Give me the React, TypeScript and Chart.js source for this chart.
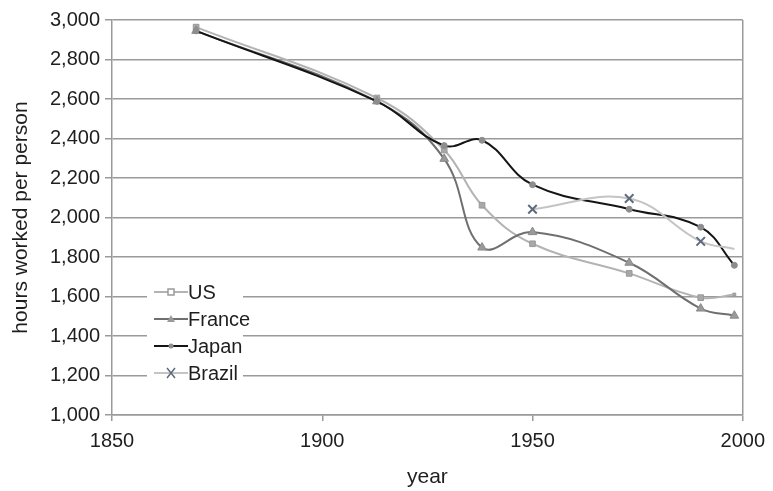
import React, { useEffect, useRef } from 'react';
import { Chart, registerables } from 'chart.js';

Chart.register(...registerables);

const years = [1870, 1913, 1929, 1938, 1950, 1973, 1990, 1998];
const usHours = [2964, 2605, 2342, 2062, 1867, 1717, 1594, 1610];
const franceHours = [2945, 2588, 2297, 1848, 1926, 1771, 1539, 1503];
const japanHours = [2945, 2588, 2364, 2391, 2166, 2042, 1951, 1758];
const brazilYears = [1950, 1973, 1990, 1998];
const brazilHours = [2042, 2096, 1879, 1841];
const seriesNames = ['US', 'France', 'Japan', 'Brazil'];
const xMin = 1850;
const xMax = 2000;
const xStep = 50;
const yMin = 1000;
const yMax = 3000;
const yStep = 200;

const FONT = '"Liberation Sans", Arial, Helvetica, sans-serif';
const TEXT = '#1e1e1e';
const GRID = '#9a9a9a';

const pts = (xs: number[], ys: number[]) => xs.map((x, i) => ({ x, y: ys[i] }));

const styles = [
  { line: '#b3b3b3', point: '#a8a8a8', pointBorder: '#9a9a9a', style: 'rect', radius: 4, width: 2 },
  { line: '#6f6f6f', point: '#9a9a9a', pointBorder: '#8a8a8a', style: 'triangle', radius: 5, width: 2 },
  { line: '#151515', point: '#8d8d8d', pointBorder: '#8d8d8d', style: 'circle', radius: 3, width: 2 },
  { line: '#c4c4c4', point: '#5d6b7d', pointBorder: '#5d6b7d', style: 'crossRot', radius: 6, width: 2 },
];

const legendPlugin = {
  id: 'insideLegend',
  afterDraw(chart: any) {
    const ctx = chart.ctx;
    ctx.save();
    ctx.fillStyle = '#ffffff';
    ctx.fillRect(147, 279, 96, 108);
    const rowY = [292, 319, 346, 373];
    seriesNames.forEach((name, i) => {
      const s = styles[i];
      const y = rowY[i];
      ctx.strokeStyle = s.line;
      ctx.lineWidth = s.width;
      ctx.beginPath();
      ctx.moveTo(154, y);
      ctx.lineTo(188, y);
      ctx.stroke();
      ctx.fillStyle = s.point;
      ctx.strokeStyle = s.pointBorder;
      ctx.lineWidth = 1.5;
      const cx = 171;
      if (s.style === 'rect') {
        ctx.fillStyle = '#ffffff';
        ctx.fillRect(cx - 3, y - 3, 6, 6);
        ctx.strokeRect(cx - 3, y - 3, 6, 6);
      } else if (s.style === 'triangle') {
        ctx.beginPath();
        ctx.moveTo(cx, y - 4);
        ctx.lineTo(cx + 4, y + 3);
        ctx.lineTo(cx - 4, y + 3);
        ctx.closePath();
        ctx.fill();
      } else if (s.style === 'circle') {
        ctx.beginPath();
        ctx.arc(cx, y, 2.5, 0, Math.PI * 2);
        ctx.fill();
      } else {
        ctx.beginPath();
        ctx.moveTo(cx - 4, y - 5);
        ctx.lineTo(cx + 4, y + 5);
        ctx.moveTo(cx + 4, y - 5);
        ctx.lineTo(cx - 4, y + 5);
        ctx.stroke();
      }
      ctx.fillStyle = TEXT;
      ctx.font = '20px ' + FONT;
      ctx.textAlign = 'left';
      ctx.textBaseline = 'middle';
      ctx.fillText(name, 188, y + 1);
    });
    ctx.restore();
  },
};

export default function App() {
  const ref = useRef<HTMLCanvasElement | null>(null);

  useEffect(() => {
    if (!ref.current) return;
    const mk = (i: number, data: any[], extra: any = {}) => {
      const s = styles[i];
      return {
        label: seriesNames[i],
        data,
        borderColor: s.line,
        borderWidth: s.width,
        backgroundColor: s.point,
        pointBackgroundColor: s.point,
        pointBorderColor: s.pointBorder,
        pointBorderWidth: s.style === 'crossRot' ? 2 : 1,
        pointStyle: s.style,
        pointRadius: s.radius,
        tension: 0.4,
        cubicInterpolationMode: 'default',
        fill: false,
        ...extra,
      };
    };
    const chart = new Chart(ref.current, {
      type: 'line',
      data: {
        datasets: [
          mk(0, pts(years, usHours), { order: 4, pointRadius: [4, 4, 4, 4, 4, 4, 4, 2] }),
          mk(1, pts(years, franceHours), { order: 3 }),
          mk(2, pts(years, japanHours), { order: 2 }),
          mk(3, pts(brazilYears, brazilHours), { order: 1, pointRadius: [6, 6, 6, 0] }),
        ],
      },
      options: {
        animation: false,
        responsive: false,
        maintainAspectRatio: false,
        layout: { padding: { top: 20, right: 25, left: 0, bottom: 0 } },
        plugins: {
          legend: { display: false },
          tooltip: { enabled: false },
        },
        scales: {
          x: {
            type: 'linear',
            min: xMin,
            max: xMax,
            afterBuildTicks: (scale: any) => {
              const t = [];
              for (let v = xMin; v <= xMax; v += xStep) t.push({ value: v });
              scale.ticks = t;
            },
            afterFit: (scale: any) => {
              scale.height = 76;
            },
            ticks: {
              color: TEXT,
              font: { family: FONT, size: 20 },
              padding: 8,
              maxRotation: 0,
              callback: (v: any) => String(v),
            },
            grid: {
              color: (c: any) => (c.tick && c.tick.value === xMax ? GRID : 'rgba(0,0,0,0)'),
              tickColor: GRID,
              tickLength: 6,
              lineWidth: 1.5,
            },
            border: { color: GRID, width: 1.5 },
            title: {
              display: true,
              text: 'year',
              color: TEXT,
              font: { family: FONT, size: 21 },
              padding: { top: 0, bottom: 1 },
            },
          },
          y: {
            type: 'linear',
            min: yMin,
            max: yMax,
            afterFit: (scale: any) => {
              scale.width = 112;
            },
            ticks: {
              stepSize: yStep,
              color: TEXT,
              font: { family: FONT, size: 20 },
              padding: 5,
              callback: (v: any) => Number(v).toLocaleString('en-US'),
            },
            grid: {
              color: GRID,
              tickColor: GRID,
              tickLength: 7,
              lineWidth: 1.5,
            },
            border: { color: GRID, width: 1.5 },
            title: {
              display: true,
              text: 'hours worked per person',
              color: TEXT,
              font: { family: FONT, size: 21 },
              padding: { top: 9, bottom: 0 },
            },
          },
        },
      },
      plugins: [legendPlugin],
    } as any);
    return () => chart.destroy();
  }, []);

  return (
    <div style={{ position: 'fixed', left: 0, top: 0, width: 773, height: 491, background: '#fff' }}>
      <canvas ref={ref} width={773} height={491} style={{ width: 773, height: 491, display: 'block' }} />
    </div>
  );
}
